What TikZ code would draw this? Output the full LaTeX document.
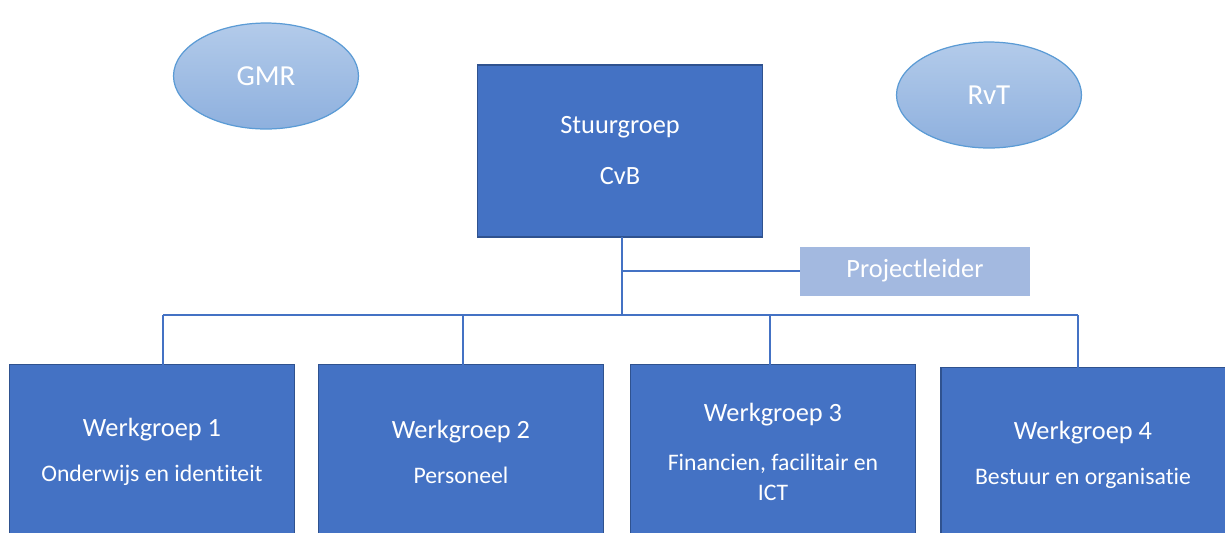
\documentclass[tikz,border=0pt]{standalone}
\usepackage{fontspec}
\setmainfont[Ligatures={NoCommon}]{Carlito}
\usepackage{xcolor}
\usetikzlibrary{shapes,positioning,calc}

\definecolor{wgblue}{HTML}{4472C4}
\definecolor{wgedge}{HTML}{2F528F}
\definecolor{plblue}{HTML}{A3B9E0}
\definecolor{eltop}{HTML}{B3CBEA}
\definecolor{elbot}{HTML}{8EB0DE}
\definecolor{eledge}{HTML}{5B9BD5}

\newcommand{\subtxt}[1]{{\fontsize{13.5}{16}\selectfont #1}}

\begin{document}
\begin{tikzpicture}[
    x=0.02cm, y=-0.02cm,
    outer sep=0pt,
    groep/.style={draw=wgedge, line width=1.1pt, fill=wgblue, rectangle, text=white, align=center,
        minimum width=5.7cm, minimum height=3.5cm, font=\fontsize{15}{18}\selectfont},
    raad/.style={draw=eledge, line width=0.7pt, ellipse, top color=eltop, bottom color=elbot,
        text=white, minimum width=3.7cm, minimum height=2.12cm, font=\fontsize{16.5}{19}\selectfont},
    lijn/.style={draw=wgblue, line width=1.1pt}
]
    \useasboundingbox (0,0) rectangle (1225,532);
    \clip (0,0) rectangle (1225,532);

    \node [raad] (gmr) at (266,76) {GMR};
    \node [raad] (rvt) at (989,95) {RvT};

    \node [groep, minimum height=3.44cm] (stuur) at (620,151) {Stuurgroep\\[11pt]CvB};
    \node [rectangle, fill=plblue, text=white, minimum width=4.6cm, minimum height=0.98cm,
        font=\fontsize{15}{18}\selectfont] (pl) at (915,271) {Projectleider};

    \node [groep] (wg1) at (152,452) {Werkgroep 1\\[8pt]\subtxt{Onderwijs en identiteit}};
    \node [groep] (wg2) at (461,452) {Werkgroep 2\\[8pt]\subtxt{Personeel}};
    \node [groep] (wg3) at (773,452) {Werkgroep 3\\[10pt]\subtxt{Financien, facilitair en}\\[-1pt]\subtxt{ICT}};
    \node [groep] (wg4) at (1083,455) {Werkgroep 4\\[8pt]\subtxt{Bestuur en organisatie}};

    % verbindingen
    \coordinate (bar) at (622,315);
    \coordinate (b1) at (163,315);
    \coordinate (b2) at (463,315);
    \coordinate (b3) at (770,315);
    \coordinate (b4) at (1078,315);
    \draw [lijn] (stuur.south -| bar) -- (bar);
    \draw [lijn] (bar |- pl.west) -- (pl.west);
    \draw [lijn] (b1) -- (b4);
    \foreach \i in {1,...,4}
        \draw [lijn] (b\i) -- (b\i |- wg\i.north);
\end{tikzpicture}
\end{document}
